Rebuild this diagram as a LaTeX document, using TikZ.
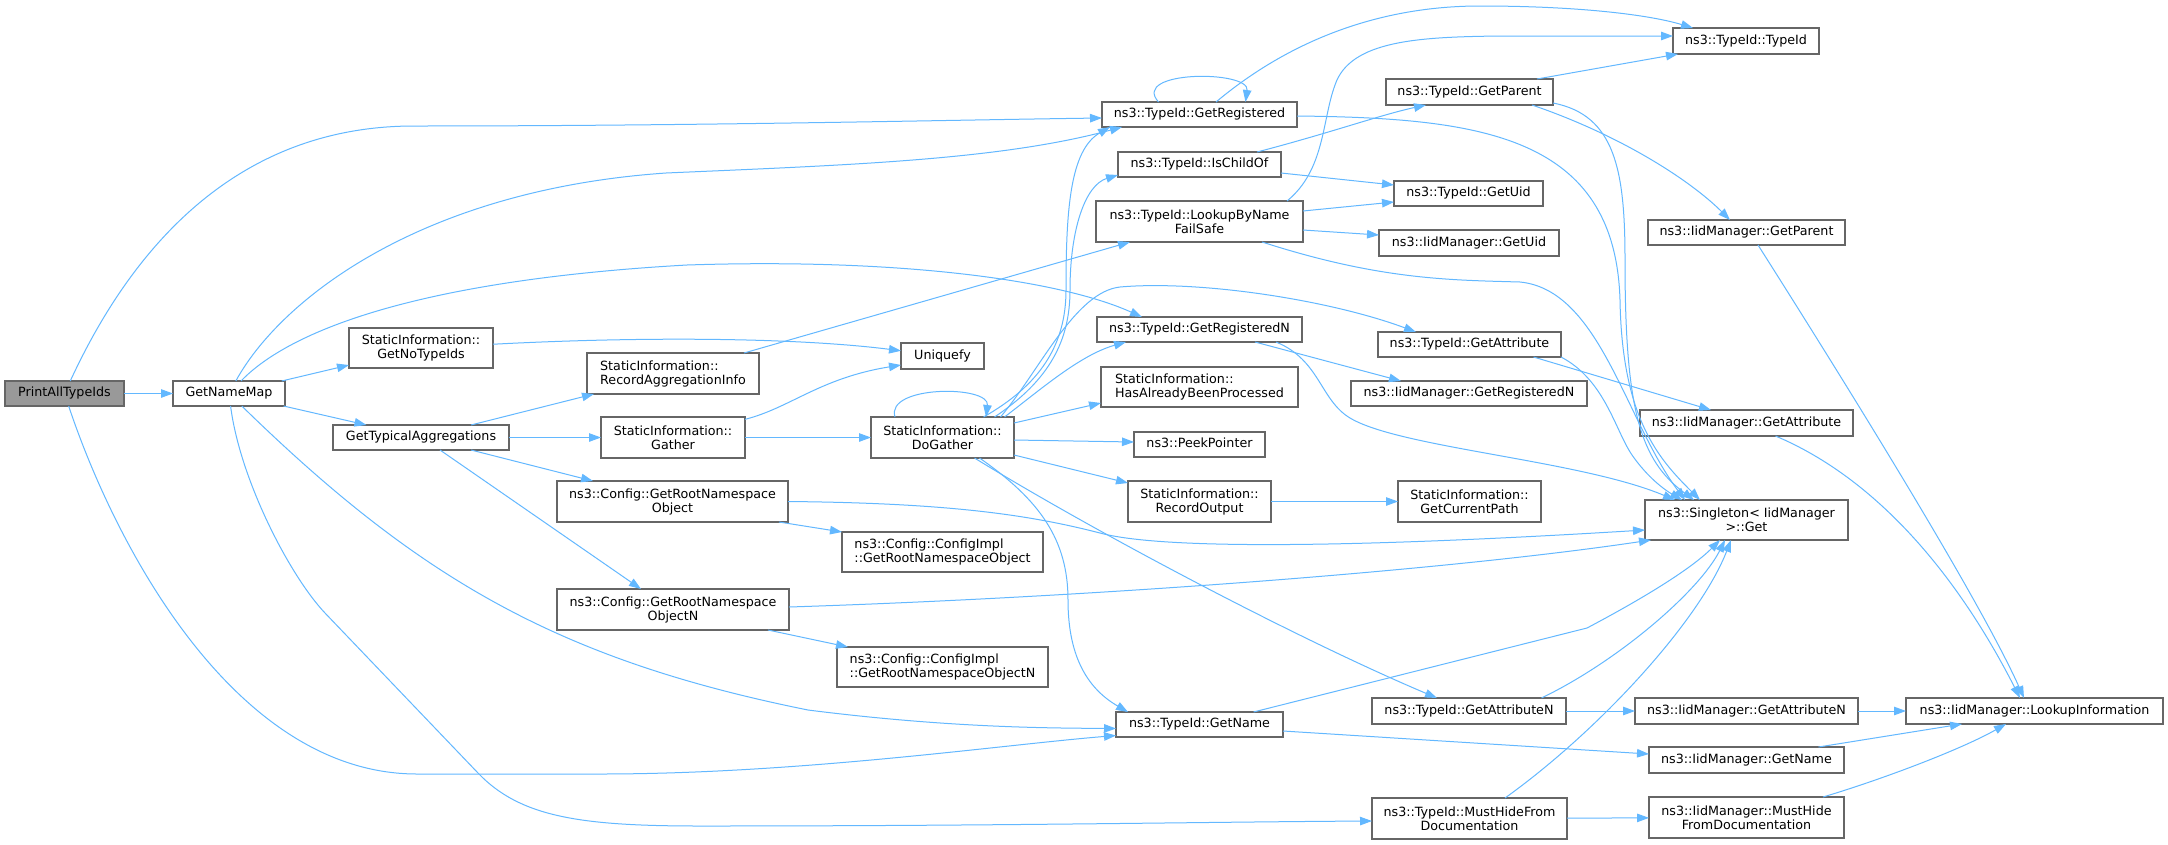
\documentclass[tikz,border=0pt]{standalone}
\usepackage{fontspec}
\setmainfont{DejaVu Sans}
\usetikzlibrary{arrows.meta}
\definecolor{edgeblue}{HTML}{63B8FF}
\definecolor{boxgray}{HTML}{666666}
\definecolor{rootfill}{HTML}{999999}
\newcommand{\dxfont}{\fontsize{12.7}{14}\selectfont}
\tikzset{
  fn/.style={draw=boxgray, line width=1.2pt, fill=white, inner sep=0pt, outer sep=0pt, text=black, font=\dxfont},
  fn1/.style={fn, text height=9.3pt, text depth=2.8pt},
  fnc/.style={fn, align=center},
  fnl/.style={fn, align=left},
  rootnode/.style={fill=rootfill},
  e/.style={draw=edgeblue, line width=1pt, -{Triangle[length=12pt,width=8.5pt]}, fill=none},
}
\begin{document}
\begin{tikzpicture}[x=1pt,y=-1pt]
\fill[white] (0,0) rectangle (2168,844);
\useasboundingbox (0,0) rectangle (2168,844);

% column 1-3
\node[fn1, rootnode, minimum width=119pt, minimum height=25pt] (P) at (64.5,393.5) {PrintAllTypeIds};
\node[fn1, minimum width=112pt, minimum height=25pt] (GNM) at (229,393.5) {GetNameMap};
\node[fnc, minimum width=144pt, minimum height=40pt] (GNT) at (421,348) {StaticInformation::\\GetNoTypeIds};
\node[fn1, minimum width=176pt, minimum height=25pt] (GTA) at (421,437.5) {GetTypicalAggregations};
% column 4
\node[fnl, minimum width=172pt, minimum height=41pt] (RAI) at (673,373.5) {StaticInformation::\\RecordAggregationInfo};
\node[fnc, minimum width=144pt, minimum height=41pt] (GAT) at (673,437.5) {StaticInformation::\\Gather};
\node[fnc, minimum width=231pt, minimum height=41pt] (GRO) at (672.5,501.5) {ns3::Config::GetRootNamespace\\Object};
\node[fnc, minimum width=232pt, minimum height=41pt] (GRON) at (673,609.5) {ns3::Config::GetRootNamespace\\ObjectN};
% column 5
\node[fn1, minimum width=83pt, minimum height=26pt] (UNQ) at (942.5,356) {Uniquefy};
\node[fnc, minimum width=143pt, minimum height=41pt] (DOG) at (942.5,437.5) {StaticInformation::\\DoGather};
\node[fnl, minimum width=201pt, minimum height=40pt] (CGRO) at (942.5,552) {ns3::Config::ConfigImpl\\::GetRootNamespaceObject};
\node[fnl, minimum width=211pt, minimum height=40pt] (CGRON) at (942.5,667) {ns3::Config::ConfigImpl\\::GetRootNamespaceObjectN};
% column 6
\node[fn1, minimum width=195pt, minimum height=25pt] (GREG) at (1199.5,114.5) {ns3::TypeId::GetRegistered};
\node[fn1, minimum width=163pt, minimum height=25pt] (ICO) at (1199.5,164.5) {ns3::TypeId::IsChildOf};
\node[fnc, minimum width=207pt, minimum height=41pt] (LBN) at (1199.5,221.5) {ns3::TypeId::LookupByName\\FailSafe};
\node[fn1, minimum width=205pt, minimum height=25pt] (GREGN) at (1199.5,329.5) {ns3::TypeId::GetRegisteredN};
\node[fnl, minimum width=197pt, minimum height=40pt] (HAB) at (1199.5,387) {StaticInformation::\\HasAlreadyBeenProcessed};
\node[fn1, minimum width=131pt, minimum height=25pt] (PKP) at (1199.5,444.5) {ns3::PeekPointer};
\node[fnc, minimum width=143pt, minimum height=41pt] (ROU) at (1199.5,501.5) {StaticInformation::\\RecordOutput};
\node[fn1, minimum width=167pt, minimum height=25pt] (TGN) at (1199.5,724.5) {ns3::TypeId::GetName};
% column 7
\node[fn1, minimum width=167pt, minimum height=26pt] (TPAR) at (1469.5,92) {ns3::TypeId::GetParent};
\node[fn1, minimum width=149pt, minimum height=25pt] (TUID) at (1468.5,193.5) {ns3::TypeId::GetUid};
\node[fn1, minimum width=180pt, minimum height=26pt] (IUID) at (1469,243) {ns3::IidManager::GetUid};
\node[fn1, minimum width=183pt, minimum height=25pt] (TGA) at (1469.5,344.5) {ns3::TypeId::GetAttribute};
\node[fn1, minimum width=236pt, minimum height=25pt] (IGRN) at (1469,393.5) {ns3::IidManager::GetRegisteredN};
\node[fnc, minimum width=143pt, minimum height=41pt] (GCP) at (1469.5,501.5) {StaticInformation::\\GetCurrentPath};
\node[fn1, minimum width=194pt, minimum height=26pt] (TGAN) at (1469,711) {ns3::TypeId::GetAttributeN};
\node[fnc, minimum width=195pt, minimum height=41pt] (TMH) at (1469.5,818.5) {ns3::TypeId::MustHideFrom\\Documentation};
% column 8
\node[fn1, minimum width=146pt, minimum height=26pt] (TTID) at (1746,41) {ns3::TypeId::TypeId};
\node[fn1, minimum width=197pt, minimum height=25pt] (IPAR) at (1746.5,232.5) {ns3::IidManager::GetParent};
\node[fn1, minimum width=213pt, minimum height=26pt] (IGA) at (1746.5,423) {ns3::IidManager::GetAttribute};
\node[fnc, minimum width=203pt, minimum height=40pt] (SNG) at (1746.5,520) {ns3::Singleton< IidManager\\>::Get};
\node[fn1, minimum width=223pt, minimum height=26pt] (IGAN) at (1746.5,711) {ns3::IidManager::GetAttributeN};
\node[fn1, minimum width=195pt, minimum height=26pt] (IGN) at (1746.5,760) {ns3::IidManager::GetName};
\node[fnc, minimum width=195pt, minimum height=41pt] (IMH) at (1746.5,817.5) {ns3::IidManager::MustHide\\FromDocumentation};
% column 9
\node[fn1, minimum width=257pt, minimum height=26pt] (LKI) at (2034.5,711) {ns3::IidManager::LookupInformation};

% ---- edges from PrintAllTypeIds
\draw[e] (P) -- (GNM);
\draw[e] (P) .. controls (140,230) and (250,126) .. (414,126) .. controls (700,126) and (950,120) .. ([yshift=-3.5pt]GREG.west);
\draw[e] (P) .. controls (115,545) and (235,774) .. (417,774) -- (600,774) .. controls (800,774) and (1000,745) .. ([yshift=-11pt]TGN.west);
% ---- GetNameMap
\draw[e] (GNM) .. controls (280,300) and (420,190) .. (666,173) .. controls (850,165) and (1000,160) .. ([xshift=20pt]GREG.south west);
\draw[e] (GNM) .. controls (290,330) and (420,280) .. (687,265) .. controls (900,258) and (1060,280) .. ([xshift=45pt]GREGN.north west);
\draw[e] (GNM) -- (GNT);
\draw[e] (GNM) -- (GTA);
\draw[e] (GNM) .. controls (420,580) and (560,660) .. (808,710) .. controls (950,728) and (1050,728) .. ([yshift=-4pt]TGN.west);
\draw[e] (GNM) .. controls (240,480) and (290,576) .. (325,613) -- (478,773) .. controls (520,817) and (580,826) .. (700,826) .. controls (1000,826) and (1200,822) .. ([yshift=-2.5pt]TMH.west);
% ---- column 3
\draw[e] (GNT) .. controls (650,336) and (800,338) .. (UNQ);
\draw[e] ([xshift=50pt]GTA.north) -- ([xshift=7pt]RAI.south west);
\draw[e] (GTA) -- (GAT);
\draw[e] ([xshift=50pt]GTA.south) -- ([xshift=36pt]GRO.north west);
\draw[e] ([xshift=19pt]GTA.south) -- ([xshift=84pt]GRON.north west);
% ---- column 4
\draw[e] ([xshift=71pt]RAI.north) -- ([xshift=34pt]LBN.south west);
\draw[e] (GAT) .. controls (790,408) and (820,378) .. ([yshift=-9pt]UNQ.west);
\draw[e] (GAT) -- (DOG);
\draw[e] ([xshift=-9pt]GRO.south east) -- (CGRO.north west);
\draw[e] (GRO.east) .. controls (950,503) and (1030,515) .. (1100,533) .. controls (1170,552) and (1400,545) .. ([yshift=-10pt]SNG.west);
\draw[e] ([xshift=95pt]GRON.south) -- ([xshift=11pt]CGRON.north west);
\draw[e] ([yshift=2.5pt]GRON.east) .. controls (1100,597) and (1450,570) .. ([xshift=6pt]SNG.south west);
% ---- DoGather
\draw[e] ([xshift=-47.5pt]DOG.north) .. controls (885,385) and (990,385) .. ([xshift=43.5pt]DOG.north);
\draw[e] ([xshift=41pt]DOG.north) .. controls (1040,385) and (1066,345) .. (1066,290) .. controls (1066,210) and (1070,150) .. ([xshift=8pt]GREG.south west);
\draw[e] ([xshift=52pt]DOG.north) .. controls (1050,380) and (1070,340) .. (1070,290) .. controls (1070,230) and (1085,185) .. ([yshift=2pt]ICO.south west);
\draw[e] ([xshift=58pt]DOG.north) .. controls (1040,370) and (1075,292) .. (1120,287) .. controls (1200,280) and (1330,300) .. ([xshift=38pt]TGA.north west);
\draw[e] ([xshift=62pt]DOG.north) .. controls (1040,390) and (1080,355) .. ([xshift=29pt]GREGN.south west);
\draw[e] ([yshift=14.5pt]DOG.east) -- ([yshift=-16pt]HAB.west);
\draw[e] ([yshift=-2.5pt]DOG.east) -- ([yshift=2.5pt]PKP.west);
\draw[e] ([yshift=-17.5pt]DOG.east) -- ([yshift=-2pt]ROU.north west);
\draw[e] ([xshift=32pt]DOG.south) .. controls (1100,535) and (1300,640) .. ([xshift=65pt]TGAN.north west);
\draw[e] ([xshift=37pt]DOG.south) .. controls (1040,500) and (1068,540) .. (1068,600) .. controls (1068,660) and (1090,690) .. ([xshift=12pt]TGN.north west);
% ---- column 6
\draw[e] ([xshift=-41pt]GREG.north) .. controls (1130,70) and (1250,70) .. ([xshift=46pt]GREG.north);
\draw[e] ([xshift=16.5pt]GREG.north) .. controls (1290,40) and (1380,6) .. (1480,6) .. controls (1580,6) and (1650,15) .. ([xshift=20pt]TTID.north west);
\draw[e] ([yshift=-1.5pt]GREG.east) .. controls (1480,118) and (1615,135) .. (1620,300) .. controls (1622,420) and (1660,460) .. ([xshift=55pt]SNG.north west);
\draw[e] ([xshift=57.5pt]ICO.north) .. controls (1330,133) and (1380,115) .. ([xshift=40pt]TPAR.south west);
\draw[e] ([yshift=-8.5pt]ICO.east) -- ([yshift=8.5pt]TUID.west);
\draw[e] ([yshift=10.5pt]LBN.east) -- ([yshift=-8.5pt]TUID.west);
\draw[e] ([yshift=-8.5pt]LBN.east) -- ([yshift=8pt]IUID.west);
\draw[e] ([xshift=87.5pt]LBN.north) .. controls (1325,170) and (1322,120) .. (1335,85) .. controls (1350,40) and (1420,37) .. (1500,36) -- ([yshift=5pt]TTID.west);
\draw[e] ([xshift=62.5pt]LBN.south) .. controls (1380,280) and (1450,280) .. (1520,282) .. controls (1600,290) and (1625,420) .. ([xshift=40pt]SNG.north west);
\draw[e] ([xshift=55.5pt]GREGN.south) -- ([xshift=50pt]IGRN.north west);
\draw[e] ([xshift=76.5pt]GREGN.south) .. controls (1320,360) and (1320,400) .. (1350,418) .. controls (1400,448) and (1580,460) .. ([xshift=30pt]SNG.north west);
\draw[e] (ROU) -- (GCP);
\draw[e] ([yshift=-6.5pt]TGN.east) -- ([yshift=6pt]IGN.west);
\draw[e] ([xshift=54pt]TGN.north) -- (1587,628) .. controls (1640,600) and (1690,570) .. ([xshift=75pt]SNG.south west);
% ---- column 7
\draw[e] ([xshift=67.5pt]TPAR.north) -- ([xshift=5pt]TTID.south west);
\draw[e] ([xshift=62.5pt]TPAR.south) .. controls (1620,135) and (1690,180) .. ([xshift=-16.5pt]IPAR.north);
\draw[e] ([yshift=-11pt]TPAR.east) .. controls (1615,115) and (1625,170) .. (1625,260) .. controls (1625,410) and (1640,460) .. ([xshift=49pt]SNG.north west);
\draw[e] ([xshift=64pt]TGA.south) -- ([xshift=-35.5pt]IGA.north);
\draw[e] (TGA.south east) .. controls (1605,380) and (1615,430) .. (1632,455) .. controls (1648,478) and (1665,490) .. ([xshift=37pt]SNG.north west);
\draw[e] ([xshift=72.5pt]TGAN.north) .. controls (1620,660) and (1700,590) .. ([xshift=80pt]SNG.south west);
\draw[e] ([xshift=35.5pt]TMH.north) .. controls (1600,730) and (1700,620) .. ([xshift=86pt]SNG.south west);
\draw[e] (TGAN) -- (IGAN);
\draw[e] (TMH) -- (IMH);
% ---- column 8
\draw[e] ([xshift=29pt]IGA.south) .. controls (1880,480) and (1960,580) .. ([xshift=114pt]LKI.north west);
\draw[e] ([xshift=11.5pt]IPAR.south) .. controls (1850,390) and (1980,600) .. ([xshift=118pt]LKI.north west);
\draw[e] (IGAN) -- (LKI);
\draw[e] ([xshift=72pt]IGN.north) -- ([xshift=56pt]LKI.south west);
\draw[e] ([xshift=76.5pt]IMH.north) .. controls (1880,780) and (1960,750) .. ([xshift=100pt]LKI.south west);
\end{tikzpicture}
\end{document}
